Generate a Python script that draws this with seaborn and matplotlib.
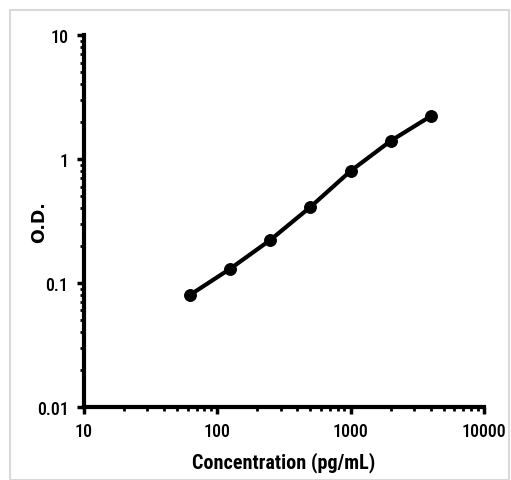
import pandas as pd
import seaborn as sns
import matplotlib.pyplot as plt
from matplotlib import font_manager
from matplotlib.patches import Rectangle
from matplotlib.ticker import LogLocator, NullFormatter, FixedLocator, FixedFormatter

# standard curve data
concentration = [62.5, 125, 250, 500, 1000, 2000, 4000]
od = [0.080, 0.13, 0.222, 0.41, 0.80, 1.40, 2.22]
x_ticks = [10, 100, 1000, 10000]
x_labels = ['10', '100', '1000', '10000']
y_ticks = [0.01, 0.1, 1, 10]
y_labels = ['0.01', '0.1', '1', '10']

df = pd.DataFrame({'conc': concentration, 'od': od})

sns.set_style('ticks')
# pick a narrow font if one is there
names = {f.name for f in font_manager.fontManager.ttflist}
wanted = ['Liberation Sans Narrow', 'DejaVu Sans Condensed', 'Roboto Condensed', 'Open Sans Condensed']
fams = [n for n in wanted if n in names] + ['DejaVu Sans']
plt.rcParams['font.family'] = fams
plt.rcParams['text.color'] = 'black'
plt.rcParams['axes.labelcolor'] = 'black'
plt.rcParams['xtick.color'] = 'black'
plt.rcParams['ytick.color'] = 'black'

fig = plt.figure(figsize=(5.11, 4.81), dpi=100)
ax = fig.add_axes([0.164, 0.152, 0.783, 0.773])

sns.lineplot(data=df, x='conc', y='od', ax=ax, color='black', linewidth=3,
             marker='o', markersize=8.5, markeredgecolor='black')

ax.set_xscale('log')
ax.set_yscale('log')
ax.set_xlim(10, 10000)
ax.set_ylim(0.01, 10)

ax.xaxis.set_major_locator(FixedLocator(x_ticks))
ax.xaxis.set_major_formatter(FixedFormatter(x_labels))
ax.yaxis.set_major_locator(FixedLocator(y_ticks))
ax.yaxis.set_major_formatter(FixedFormatter(y_labels))
ax.xaxis.set_minor_locator(LogLocator(base=10, subs=range(2, 10), numticks=20))
ax.yaxis.set_minor_locator(LogLocator(base=10, subs=range(2, 10), numticks=20))
ax.xaxis.set_minor_formatter(NullFormatter())
ax.yaxis.set_minor_formatter(NullFormatter())

ax.tick_params(which='major', direction='out', length=5, width=2.5, labelsize=13, pad=6)
ax.tick_params(which='minor', direction='out', length=3, width=2)
for lab in ax.get_xticklabels() + ax.get_yticklabels():
    lab.set_fontweight('medium')

for side in ['top', 'right']:
    ax.spines[side].set_visible(False)
for side in ['left', 'bottom']:
    ax.spines[side].set_linewidth(3)
    ax.spines[side].set_color('black')

ax.set_xlabel('Concentration (pg/mL)', fontsize=14.5, fontweight='bold', labelpad=8)
ax.set_ylabel('O.D.', fontsize=12.5, fontweight='bold', family='DejaVu Sans')
ax.yaxis.set_label_coords(-0.09, 0.5)

# light grey frame round the picture
fig.patches.append(Rectangle((0.02, 0.0), 0.977, 0.978, transform=fig.transFigure,
                             fill=False, edgecolor='#d9d9d9', linewidth=1.5))

fig.savefig('out.png', dpi=100)
